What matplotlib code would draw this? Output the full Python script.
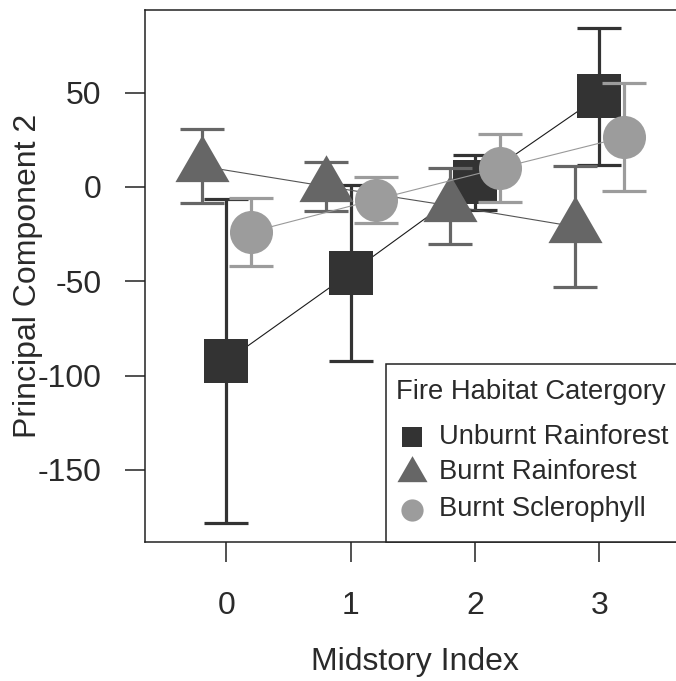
import matplotlib
matplotlib.use('Agg')
import matplotlib.pyplot as plt

plt.rcParams['font.family'] = ['Liberation Sans', 'DejaVu Sans']

# data
midstory = [0, 1, 2, 3]
tick_labels = ['0', '1', '2', '3']
y_ticks = [50, 0, -50, -100, -150]

unburnt_mean = [-92.3, -45.4, 2.5, 48.0]
unburnt_err = [85.7, 46.7, 14.5, 36.2]

burnt_rf_mean = [11.0, 0.3, -10.0, -21.0]
burnt_rf_err = [19.6, 12.8, 20.0, 32.0]

burnt_scl_mean = [-23.8, -6.7, 10.0, 26.5]
burnt_scl_err = [18.2, 12.2, 18.0, 28.5]

legend_title = 'Fire Habitat Catergory'
series_names = ['Unburnt Rainforest', 'Burnt Rainforest', 'Burnt Sclerophyll']

# R style triangle (centroid at the point)
tri = [(0, 1), (-0.866, -0.5), (0.866, -0.5)]

series = [
    # mean, err, offset, colour, line colour, marker, size
    (unburnt_mean, unburnt_err, 0.0, '#333333', '#1a1a1a', 's', 31),
    (burnt_rf_mean, burnt_rf_err, -0.2, '#666666', '#555555', tri, 45),
    (burnt_scl_mean, burnt_scl_err, 0.2, '#9c9c9c', '#999999', 'o', 31),
]

fig = plt.figure(figsize=(6.76, 6.81), dpi=100)
W, H = 676, 681
ax_l, ax_r, ax_t, ax_b = 145, 684, 10, 542
ax = fig.add_axes([ax_l / W, 1 - ax_b / H, (ax_r - ax_l) / W, (ax_b - ax_t) / H])

for z, (mean, err, off, col, lcol, mk, ms) in enumerate(series):
    xs = [x + off for x in midstory]
    ax.plot(xs, mean, color=lcol, lw=0.8, zorder=2 + 3 * z)
    ax.errorbar(xs, mean, yerr=err, fmt='none', ecolor=col, elinewidth=2.3,
                capsize=15.5, capthick=2.3, zorder=3 + 3 * z)
    ax.plot(xs, mean, linestyle='none', marker=mk, ms=ms, color=col,
            markeredgewidth=0, zorder=4 + 3 * z)

ax.set_xlim(-0.655, 3.68)
ax.set_ylim(-188.2, 93.8)
ax.set_xticks(midstory)
ax.set_xticklabels(tick_labels)
ax.set_yticks(y_ticks)
ax.set_yticklabels([str(v) for v in y_ticks])

txt = '#2a2a2a'
ax.tick_params(axis='both', direction='out', length=14.4, width=1.1,
               colors='#222222', labelcolor=txt, labelsize=23)
ax.tick_params(axis='x', pad=21)
ax.tick_params(axis='y', pad=17)
for s in ax.spines.values():
    s.set_linewidth(1.1)
    s.set_color('#222222')

ax.set_xlabel('Midstory Index', fontsize=23, color=txt)
ax.xaxis.set_label_coords(0.5, (ax_b - 662) / (ax_b - ax_t))
ax.xaxis.label.set_va('center')
ax.set_ylabel('Principal Component 2', fontsize=23, color=txt)
ax.yaxis.set_label_coords((28 - ax_l) / (ax_r - ax_l), 0.5)
ax.yaxis.label.set_va('center')


def to_ax(px, py):
    return (px - ax_l) / (ax_r - ax_l), (ax_b - py) / (ax_b - ax_t)


# legend box, drawn by hand so it runs off the right edge like the reference
x0, y0 = to_ax(385.7, 542)
x1, y1 = to_ax(720, 364.3)
ax.add_patch(plt.Rectangle((x0, y0), x1 - x0, y1 - y0, transform=ax.transAxes,
                           facecolor='white', edgecolor='#222222', lw=1.1,
                           zorder=20, clip_on=False))
tx, ty = to_ax(396, 392)
ax.text(tx, ty, legend_title, transform=ax.transAxes, fontsize=19.7,
        color=txt, va='center', ha='left', zorder=21)
leg_sizes = [15, 25, 16]
leg_y = [436.5, 472.5, 509.5]
for (mean, err, off, col, lcol, mk, ms), name, lms, ly in zip(series, series_names, leg_sizes, leg_y):
    mx, my = to_ax(411.5, ly)
    ax.plot([mx], [my], marker=mk, ms=lms, color=col, markeredgewidth=0,
            transform=ax.transAxes, clip_on=False, zorder=21)
    lx, _ = to_ax(438.6, ly)
    ax.text(lx, my, name, transform=ax.transAxes, fontsize=19.7, color=txt,
            va='center', ha='left', zorder=21)

fig.savefig('out.png', dpi=100)
